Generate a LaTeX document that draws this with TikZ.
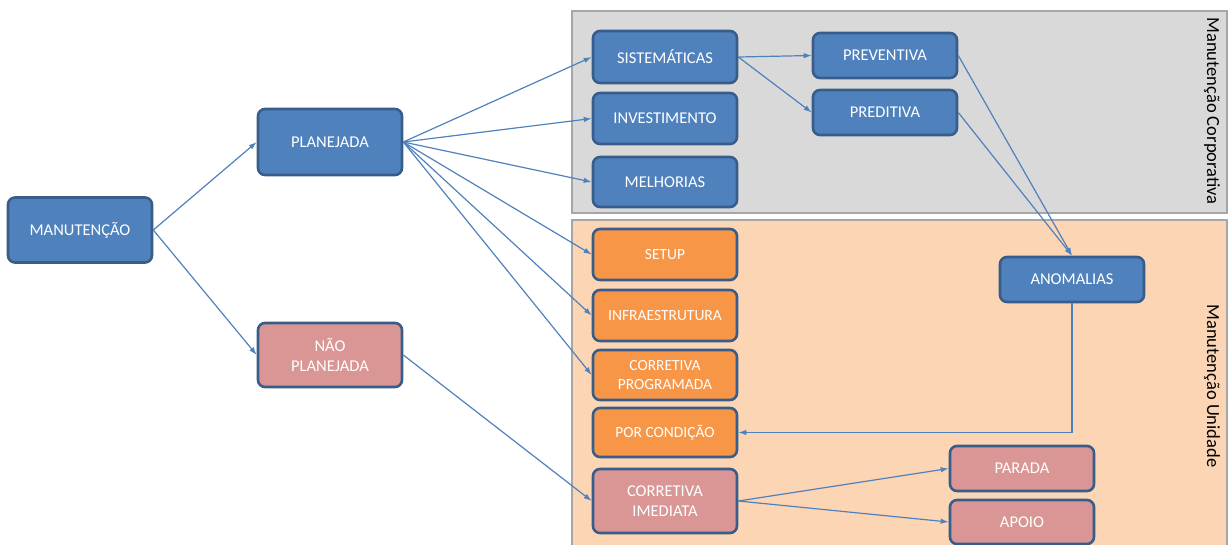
\documentclass[tikz,border=0pt]{standalone}
\usepackage{fontspec}
\setmainfont{Carlito}
\usetikzlibrary{arrows.meta}

\definecolor{boxblue}{HTML}{4F81BD}
\definecolor{boxedge}{HTML}{385D8A}
\definecolor{boxpink}{HTML}{D99694}
\definecolor{boxorange}{HTML}{F79646}
\definecolor{corpgray}{HTML}{D9D9D9}
\definecolor{unitpeach}{HTML}{FCD5B5}
\definecolor{framegray}{HTML}{A6A6A6}

\tikzset{
    box/.style={draw=boxedge, line width=2.6pt, rounded corners=7pt, text=white,
        align=center, inner sep=0pt, minimum width=144pt,
        font=\fontsize{16.5}{20}\selectfont},
    bluebox/.style={box, fill=boxblue},
    pinkbox/.style={box, fill=boxpink},
    orangebox/.style={box, fill=boxorange, font=\fontsize{15.5}{19}\selectfont},
    link/.style={draw=boxblue, line width=1.2pt, -{Latex[length=8pt,width=5.5pt]}},
    region/.style={draw=framegray, line width=2pt}
}

\begin{document}
\begin{tikzpicture}[x=1pt, y=-1pt]
    \useasboundingbox (0,0) rectangle (1229,544);

    % areas
    \filldraw[region, fill=corpgray] (572,11) rectangle (1227,213);
    \filldraw[region, fill=unitpeach] (572,220) rectangle (1227,560);
    \node[rotate=-90, font=\fontsize{18.5}{20}\selectfont] (corplabel) at (1212,111) {Manutenção Corporativa};
    \node[rotate=-90, font=\fontsize{18.5}{20}\selectfont] (unitlabel) at (1212,386) {Manutenção Unidade};

    % boxes
    \node[bluebox, minimum height=65pt] (manut) at (80,230) {MANUTENÇÃO};
    \node[bluebox, minimum height=66pt] (plan) at (330,142) {PLANEJADA};
    \node[pinkbox, minimum height=64pt] (naoplan) at (330,355) {NÃO\\PLANEJADA};

    \node[bluebox, minimum height=52pt] (sist) at (665,57) {SISTEMÁTICAS};
    \node[bluebox, minimum height=51pt] (invest) at (665,118.5) {INVESTIMENTO};
    \node[bluebox, minimum height=50pt] (melhor) at (665,182) {MELHORIAS};
    \node[bluebox, minimum height=45pt] (prev) at (885,55.5) {PREVENTIVA};
    \node[bluebox, minimum height=45pt] (pred) at (885,112.5) {PREDITIVA};

    \node[orangebox, minimum height=51pt] (setup) at (665,254.5) {SETUP};
    \node[orangebox, minimum height=51pt] (infra) at (665,315.5) {INFRAESTRUTURA};
    \node[orangebox, minimum height=50pt] (corprog) at (665,375) {CORRETIVA\\PROGRAMADA};
    \node[orangebox, minimum height=49pt] (porcond) at (665,432.5) {POR CONDIÇÃO};
    \node[pinkbox, minimum height=64pt] (corimed) at (665,501) {CORRETIVA\\IMEDIATA};

    \node[bluebox, minimum height=45pt] (anom) at (1072,279.5) {ANOMALIAS};
    \node[pinkbox, minimum height=45pt] (parada) at (1022,468.5) {PARADA};
    \node[pinkbox, minimum height=44pt] (apoio) at (1022,522) {APOIO};

    % connectors
    \draw[link] (manut.east) -- (plan.west);
    \draw[link] (manut.east) -- (naoplan.west);
    \foreach \dest in {sist, invest, melhor, setup, infra, corprog}
        \draw[link] (plan.east) -- (\dest.west);
    \draw[link] (naoplan.east) -- (corimed.west);
    \draw[link] (sist.east) -- (prev.west);
    \draw[link] (sist.east) -- (pred.west);
    \draw[link] (prev.east) -- (anom.north);
    \draw[link] (pred.east) -- (anom.north);
    \draw[link] (anom.south) |- (porcond.east);
    \draw[link] (corimed.east) -- (parada.west);
    \draw[link] (corimed.east) -- (apoio.west);
\end{tikzpicture}
\end{document}
